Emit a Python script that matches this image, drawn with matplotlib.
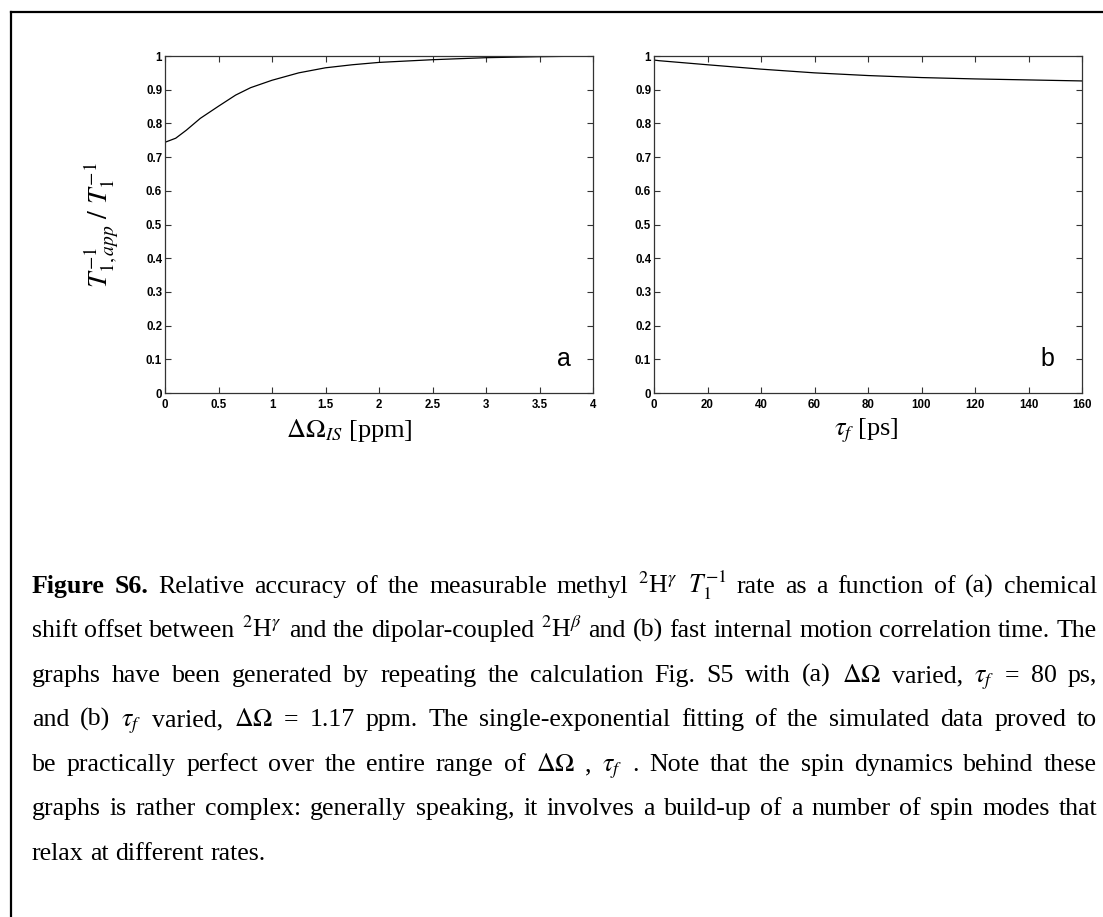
import matplotlib
matplotlib.use("Agg")
import matplotlib.pyplot as plt
from matplotlib.lines import Line2D
from matplotlib.ticker import FuncFormatter

W, H = 1103, 917

# panel (a): relative rate vs chemical shift offset
d_omega = [0, 0.1, 0.2, 0.33, 0.5, 0.66, 0.8, 1.0, 1.25, 1.5, 1.75, 2.0, 2.5, 3.0, 3.5, 4.0]
ratio_a = [0.744, 0.756, 0.78, 0.815, 0.851, 0.884, 0.906, 0.928, 0.95, 0.965,
           0.974, 0.981, 0.989, 0.995, 0.998, 1.0]

# panel (b): relative rate vs fast internal motion correlation time
tau_f = [0, 2, 20, 40, 60, 80, 100, 120, 140, 160]
ratio_b = [0.988, 0.986, 0.974, 0.961, 0.95, 0.942, 0.936, 0.932, 0.929, 0.926]

xticks_a = [0, 0.5, 1, 1.5, 2, 2.5, 3, 3.5, 4]
xticks_b = [0, 20, 40, 60, 80, 100, 120, 140, 160]
yticks = [0, 0.1, 0.2, 0.3, 0.4, 0.5, 0.6, 0.7, 0.8, 0.9, 1]

caption = [
    r"Figure S6. Relative accuracy of the measurable methyl $^2$H$^\gamma$  $T_1^{-1}$  rate as a function of (a) chemical",
    r"shift offset between $^2$H$^\gamma$ and the dipolar-coupled $^2$H$^\beta$ and (b) fast internal motion correlation time. The",
    r"graphs have been generated by repeating the calculation Fig. S5 with (a)  $\Delta\Omega$  varied,  $\tau_f$  = 80 ps,",
    r"and (b)  $\tau_f$  varied,  $\Delta\Omega$  = 1.17 ppm. The single-exponential fitting of the simulated data proved to",
    r"be practically perfect over the entire range of  $\Delta\Omega$ ,  $\tau_f$ . Note that the spin dynamics behind these",
    r"graphs is rather complex: generally speaking, it involves a build-up of a number of spin modes that",
    r"relax at different rates.",
]

plt.rcParams["mathtext.fontset"] = "stix"
plt.rcParams["font.family"] = "Liberation Serif"

fig = plt.figure(figsize=(W / 100, H / 100), dpi=100)


def px_axes(x0, y0, x1, y1):
    return fig.add_axes([x0 / W, 1 - y1 / H, (x1 - x0) / W, (y1 - y0) / H])


def style(ax, xt, xmax):
    ax.set_xlim(0, xmax)
    ax.set_ylim(0, 1)
    ax.set_xticks(xt)
    ax.set_yticks(yticks)
    fmt = FuncFormatter(lambda v, p: f"{v:g}")
    ax.xaxis.set_major_formatter(fmt)
    ax.yaxis.set_major_formatter(fmt)
    ax.tick_params(direction="in", length=4, width=0.8, top=True, right=True,
                   labelsize=8.3, color="#333333")
    ax.tick_params(axis="x", pad=4)
    ax.tick_params(axis="y", pad=2)
    for lab in ax.get_xticklabels() + ax.get_yticklabels():
        lab.set_family("Liberation Sans")
        lab.set_fontweight("bold")
    for s in ax.spines.values():
        s.set_linewidth(0.9)
        s.set_color("#333333")


ax1 = px_axes(165, 56, 593, 393)
ax1.plot(d_omega, ratio_a, color="black", lw=0.9)
style(ax1, xticks_a, 4)
ax1.text(3.73, 0.1, "a", family="Liberation Sans", fontsize=18, ha="center", va="center")

ax2 = px_axes(654, 56, 1082, 393)
ax2.plot(tau_f, ratio_b, color="black", lw=0.9)
style(ax2, xticks_b, 160)
ax2.text(147, 0.1, "b", family="Liberation Sans", fontsize=18, ha="center", va="center")

fig.text(101 / W, 1 - 225 / H, r"$T^{-1}_{1,app}\ /\ T^{-1}_{1}$", fontsize=20,
         rotation=90, ha="center", va="center")
fig.text(349 / W, 1 - 431 / H, r"$\Delta\Omega_{IS}$ [ppm]", fontsize=19, ha="center", va="center")
fig.text(866 / W, 1 - 431 / H, r"$\tau_f$ [ps]", fontsize=19, ha="center", va="center")

# page frame (top and left edge only visible)
fig.add_artist(Line2D([11 / W, 11 / W], [0, 1 - 12 / H], color="black", lw=1.6,
                      transform=fig.transFigure, solid_capstyle="projecting"))
fig.add_artist(Line2D([11 / W, 1], [1 - 12 / H, 1 - 12 / H], color="black", lw=1.6,
                      transform=fig.transFigure, solid_capstyle="projecting"))

# caption, justified word by word
fig.canvas.draw()
renderer = fig.canvas.get_renderer()
x_left, x_right = 32, 1097
line_y = [593, 637, 682, 726, 771, 815, 860]
base = 12.0
space_em = 0.25


def make_words(i, line, size):
    out = []
    for j, w in enumerate(line.split()):
        bold = i == 0 and j < 2
        out.append(fig.text(0, 1 - line_y[i] / H, w, fontsize=size,
                            fontweight="bold" if bold else "normal", va="baseline"))
    return out


# one font size so that every justified line fits with normal word spacing
sizes = []
for i, line in enumerate(caption[:-1]):
    tmp = make_words(i, line, base)
    w12 = sum(t.get_window_extent(renderer).width for t in tmp)
    n = len(tmp)
    for t in tmp:
        t.remove()
    sizes.append((x_right - x_left) / (w12 / base + (n - 1) * space_em * 100 / 72))
size = min(sizes)

for i, line in enumerate(caption):
    texts = make_words(i, line, size)
    widths = [t.get_window_extent(renderer).width for t in texts]
    if i == len(caption) - 1:
        gap = space_em * size * 100 / 72
    else:
        gap = (x_right - x_left - sum(widths)) / (len(texts) - 1)
    x = x_left
    for t, wd in zip(texts, widths):
        t.set_x(x / W)
        x += wd + gap

fig.savefig("out.png", dpi=100)
